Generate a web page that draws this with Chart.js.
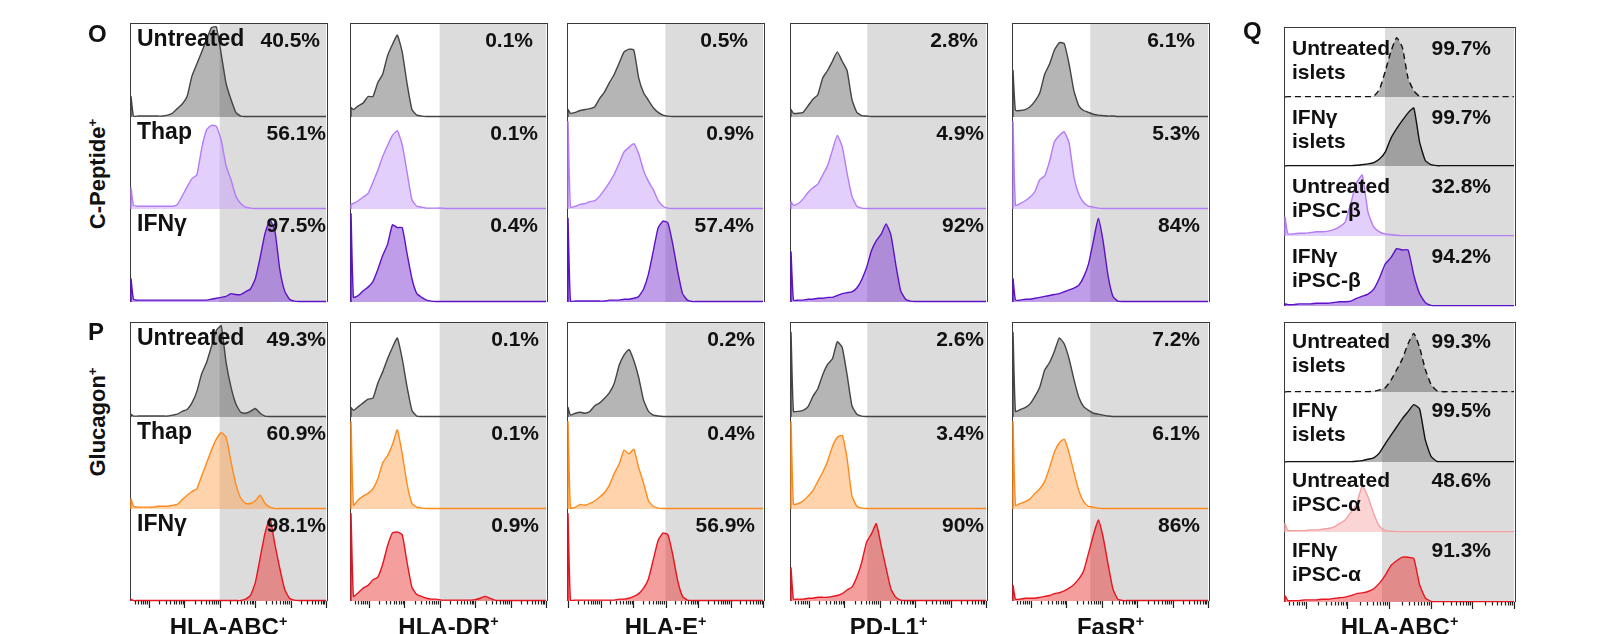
<!DOCTYPE html>
<html>
<head>
<meta charset="utf-8">
<script src="https://cdn.jsdelivr.net/npm/chart.js@4.4.0/dist/chart.umd.min.js"></script>
<style>
  body { margin: 0; background: #fff; }
  #fig { position: relative; width: 1599px; height: 634px; overflow: hidden;
         font-family: "Liberation Sans", Arial, Helvetica, sans-serif; font-weight: bold; color: #111; }
  #fig canvas { position: absolute; }
  .frame { position: absolute; box-sizing: border-box; border: 1.5px solid #3a3a3a; border-bottom: none; z-index: 1; }
  .t { position: absolute; white-space: nowrap; z-index: 30; }
  .t sup { font-size: 60%; vertical-align: 0.6em; line-height: 0; }
</style>
</head>
<body>
<div id="fig"></div>
<script>
// histograms: first value = events piled at the axis minimum, then 40 bins
const BINS = 40;

// ---- O : C-Peptide+ ----
const oAbcUnt  = [22, 1,1,1,1,1,1,1,2,4,9, 14,22,44,57,70,83,96,97,68,36, 19,5,1,.5,.5,.5,.5,.5,.5,.5, .5,.5,.5,.5,.5,.5,.5,.5,.5,.5];
const oAbcThap = [23, 4,3,3,3,3,3,3,3,3,5, 14,24,33,37,66,86,91,90,75,47, 32,14,6,2,1,.5,.5,.5,.5,.5, .5,.5,.5,.5,.5,.5,.5,.5,.5,.5];
const oAbcIfn  = [25, 3,2,2,2,2,2,2,2,2,2, 2,2,2,2,2,2,3,4,5,6, 9,8,8,11,14,25,48,74,88,77, 36,12,3,1,.5,.5,.5,.5,.5,.5];

const oDrUnt  = [10, 8,12,15,22,22,37,46,66,78,88, 70,36,8,2,1,.5,.5,.5,.5,.5, .5,.5,.5,.5,.5,.5,.5,.5,.5,.5, .5,.5,.5,.5,.5,.5,.5,.5,.5,.5];
const oDrThap = [5, 6,9,13,17,29,42,57,69,80,85, 70,40,10,3,2,1,1,1,1,.5, .5,.5,.5,.5,.5,.5,.5,.5,.5,.5, .5,.5,.5,.5,.5,.5,.5,.5,.5,.5];
const oDrIfn  = [95, 5,7,12,16,22,35,50,62,83,80, 80,52,25,9,5,2,1,.5,.5,.5, .5,.5,.5,.5,.5,.5,.5,.5,.5,.5, .5,.5,.5,.5,.5,.5,.5,.5,.5,.5];

const oEUnt  = [8, 4,5,7,8,9,11,20,27,37,46, 58,70,73,72,42,26,18,10,5,2, 1,.5,.5,.5,.5,.5,.5,.5,.5,.5, .5,.5,.5,.5,.5,.5,.5,.5,.5,.5];
const oEThap = [95, 2,3,5,6,8,9,14,21,29,38, 50,62,67,71,60,42,30,21,9,3, 1,.5,.5,.5,.5,.5,.5,.5,.5,.5, .5,.5,.5,.5,.5,.5,.5,.5,.5,.5];
const oEIfn  = [90, 1,1,1,1,1,1,1,1,2,2, 2,3,3,4,6,14,30,55,80,87, 85,62,33,9,2,.5,.5,.5,.5,.5, .5,.5,.5,.5,.5,.5,.5,.5,.5,.5];

const oPdUnt  = [8, 4,4,5,12,19,24,42,50,60,70, 60,50,19,5,1.5,1,.5,.5,.5,.5, .5,.5,.5,.5,.5,.5,.5,.5,.5,.5, .5,.5,.5,.5,.5,.5,.5,.5,.5,.5];
const oPdThap = [8, 4,6,11,18,23,27,37,47,64,80, 68,39,14,3,1,.5,.5,.5,.5,.5, .5,.5,.5,.5,.5,.5,.5,.5,.5,.5, .5,.5,.5,.5,.5,.5,.5,.5,.5,.5];
const oPdIfn  = [54, 2,2,2,3,3,4,4,5,5,7, 9,10,11,15,24,37,55,66,73,84, 72,40,12,3,1,.5,.5,.5,.5,.5, .5,.5,.5,.5,.5,.5,.5,.5,.5,.5];

const oFasUnt  = [50, 7,7,8,11,17,26,46,57,72,80, 79,57,28,12,7,5,3,2,1.5,1, 1,.5,.5,.5,.5,.5,.5,.5,.5,.5, .5,.5,.5,.5,.5,.5,.5,.5,.5,.5];
const oFasThap = [95, 4,6,9,13,19,32,36,52,73,80, 84,72,35,16,7,3,2,1,.5,.5, .5,.5,.5,.5,.5,.5,.5,.5,.5,.5, .5,.5,.5,.5,.5,.5,.5,.5,.5,.5];
const oFasIfn  = [25, 2,2,3,3,4,5,6,7,8,9, 11,13,15,18,27,41,66,90,65,28, 6,1,.5,.5,.5,.5,.5,.5,.5,.5, .5,.5,.5,.5,.5,.5,.5,.5,.5,.5];

// ---- P : Glucagon+ ----
const pAbcUnt  = [3, 1,1,1,1,1,1,1,1,2,3, 6,8,15,27,46,58,75,92,97,58, 32,14,5,4,6,9,4,1,.5,.5, .5,.5,.5,.5,.5,.5,.5,.5,.5,.5];
const pAbcThap = [11, 3,2,2,2,2,3,3,3,4,5, 10,15,19,22,36,50,64,76,83,78, 52,27,12,6,6,9,15,6,2,.5, .5,.5,.5,.5,.5,.5,.5,.5,.5,.5];
const pAbcIfn  = [2, .5,.5,.5,.5,.5,.5,.5,.5,.5,.5, .5,.5,.5,.5,.5,.5,.5,.5,.5,.5, .5,.5,.5,2,6,20,47,74,90,62, 36,13,3,1,.5,.5,.5,.5,.5,.5];

const pDrUnt  = [10, 7,11,15,19,20,36,48,62,74,84, 62,32,7,1,.5,.5,.5,.5,.5,.5, .5,.5,.5,.5,.5,.5,.5,.5,.5,.5, .5,.5,.5,.5,.5,.5,.5,.5,.5,.5];
const pDrThap = [95, 4,10,14,17,22,33,50,58,70,86, 60,27,6,2,1,.5,.5,.5,.5,.5, .5,.5,.5,.5,.5,.5,.5,.5,.5,.5, .5,.5,.5,.5,.5,.5,.5,.5,.5,.5];
const pDrIfn  = [95, 5,9,14,17,23,26,40,60,74,75, 72,42,15,7,5,3,2,2,1,1, 1,1,1,1,1,1.5,3,5,3,1, .5,.5,.5,.5,.5,.5,.5,.5,.5,.5];

const pEUnt  = [10, 2,4,5,4,6,12,15,20,26,36, 55,66,72,60,42,18,6,2,1,.5, .5,.5,.5,.5,.5,.5,.5,.5,.5,.5, .5,.5,.5,.5,.5,.5,.5,.5,.5,.5];
const pEThap = [95, 1,2,5,4,6,9,13,18,26,39, 49,64,60,65,45,28,9,3,1,.5, .5,.5,.5,.5,.5,.5,.5,.5,.5,.5, .5,.5,.5,.5,.5,.5,.5,.5,.5,.5];
const pEIfn  = [95, 1,1,1,1,1,1,1,1,1,1, 2,2,3,5,8,14,24,45,66,74, 72,50,22,5,1,.5,.5,.5,.5,.5, .5,.5,.5,.5,.5,.5,.5,.5,.5,.5];

const pPdUnt  = [90, 6,6,7,11,22,30,45,56,62,80, 74,45,12,3,1,.5,.5,.5,.5,.5, .5,.5,.5,.5,.5,.5,.5,.5,.5,.5, .5,.5,.5,.5,.5,.5,.5,.5,.5,.5];
const pPdThap = [95, 5,6,9,14,20,30,40,52,68,78, 80,55,14,3,1,.5,.5,.5,.5,.5, .5,.5,.5,.5,.5,.5,.5,.5,.5,.5, .5,.5,.5,.5,.5,.5,.5,.5,.5,.5];
const pPdIfn  = [36, 2,2,2,3,3,4,4,4,5,6, 8,12,15,26,42,64,73,84,60,36, 13,4,1,.5,.5,.5,.5,.5,.5,.5, .5,.5,.5,.5,.5,.5,.5,.5,.5,.5];

const pFasUnt  = [90, 6,8,10,14,22,32,50,58,70,84, 78,62,40,21,11,7,4,3,2,1, .5,.5,.5,.5,.5,.5,.5,.5,.5,.5, .5,.5,.5,.5,.5,.5,.5,.5,.5,.5];
const pFasThap = [95, 4,6,8,11,17,22,30,45,62,72, 76,61,40,20,8,3,2,1,.5,.5, .5,.5,.5,.5,.5,.5,.5,.5,.5,.5, .5,.5,.5,.5,.5,.5,.5,.5,.5,.5];
const pFasIfn  = [17, 2,2,3,3,3,4,5,6,8,9, 11,14,18,24,33,52,72,88,69,40, 13,2,.5,.5,.5,.5,.5,.5,.5,.5, .5,.5,.5,.5,.5,.5,.5,.5,.5,.5];

// ---- Q : HLA-ABC, islets vs iPSC ----
const qUntIsletB = [0, .5,.5,.5,.5,.5,.5,.5,.5,.5,.5, .5,.5,.5,.5,.5,1,11,37,66,86, 72,27,9,1,.5,.5,.5,.5,.5,.5, .5,.5,.5,.5,.5,.5,.5,.5,.5,.5];
const qIfnIsletB = [0, .5,.5,.5,.5,.5,.5,.5,.5,.5,.5, .5,.5,1,2,3,5,10,20,40,54, 66,77,84,35,8,2,.5,.5,.5,.5, .5,.5,.5,.5,.5,.5,.5,.5,.5,.5];
const qUntBeta   = [27, 3,3,4,4,5,6,6,7,9,13, 20,47,76,87,34,13,6,3,2,1, .5,.5,.5,.5,.5,.5,.5,.5,.5,.5, .5,.5,.5,.5,.5,.5,.5,.5,.5,.5];
const qIfnBeta   = [3, 2,2,3,3,3,4,4,4,5,6, 6,7,11,14,17,24,40,60,69,82, 80,80,44,18,5,1,.5,.5,.5,.5, .5,.5,.5,.5,.5,.5,.5,.5,.5,.5];
const qUntIsletA = [0, .5,.5,.5,.5,.5,.5,.5,.5,.5,.5, .5,.5,.5,.5,.5,1,3,6,17,32, 48,70,85,65,33,11,2,.5,.5,.5, .5,.5,.5,.5,.5,.5,.5,.5,.5,.5];
const qIfnIsletA = [0, .5,.5,.5,.5,.5,.5,.5,.5,.5,.5, .5,.5,1,2,4,6,13,26,38,50, 62,72,82,76,32,8,1,.5,.5,.5, .5,.5,.5,.5,.5,.5,.5,.5,.5,.5];
const qUntAlpha  = [12, 2,2,2,2,3,3,4,5,7,12, 17,28,40,66,50,26,8,2,1,.5, .5,.5,.5,.5,.5,.5,.5,.5,.5,.5, .5,.5,.5,.5,.5,.5,.5,.5,.5,.5];
const qIfnAlpha  = [9, 2,2,2,3,3,3,4,4,5,6, 7,9,12,13,15,19,27,38,52,59, 64,64,62,25,6,1,.5,.5,.5,.5, .5,.5,.5,.5,.5,.5,.5,.5,.5,.5];

// axes (log decades) and gates
const markers = ['HLA-ABC', 'HLA-DR', 'HLA-E', 'PD-L1', 'FasR'];
const axisRange = [[-0.5, 5], [-0.5, 5], [0, 6], [-0.5, 5], [-0.5, 5]];
const gates = [2.0, 2.0, 3.0, 1.65, 1.68];
const decades = [[0,1,2,3,4,5], [0,1,2,3,4,5], [0,1,2,3,4,5,6], [0,1,2,3,4,5], [0,1,2,3,4,5]];
const conditions = ['Untreated', 'Thap', 'IFNγ'];
const pctO = [['40.5%','56.1%','97.5%'], ['0.1%','0.1%','0.4%'], ['0.5%','0.9%','57.4%'], ['2.8%','4.9%','92%'], ['6.1%','5.3%','84%']];
const pctP = [['49.3%','60.9%','98.1%'], ['0.1%','0.1%','0.9%'], ['0.2%','0.4%','56.9%'], ['2.6%','3.4%','90%'], ['7.2%','6.1%','86%']];
const dataO = [[oAbcUnt, oAbcThap, oAbcIfn], [oDrUnt, oDrThap, oDrIfn], [oEUnt, oEThap, oEIfn], [oPdUnt, oPdThap, oPdIfn], [oFasUnt, oFasThap, oFasIfn]];
const dataP = [[pAbcUnt, pAbcThap, pAbcIfn], [pDrUnt, pDrThap, pDrIfn], [pEUnt, pEThap, pEIfn], [pPdUnt, pPdThap, pPdIfn], [pFasUnt, pFasThap, pFasIfn]];

const qRange = [-0.5, 5];
const qDecades = [0,1,2,3,4,5];
const qGateB = 1.9, qGateA = 1.83;
const qLabelsB = [['Untreated','islets'], ['IFNγ','islets'], ['Untreated','iPSC-β'], ['IFNγ','iPSC-β']];
const qLabelsA = [['Untreated','islets'], ['IFNγ','islets'], ['Untreated','iPSC-α'], ['IFNγ','iPSC-α']];
const pctQB = ['99.7%','99.7%','32.8%','94.2%'];
const pctQA = ['99.3%','99.5%','48.6%','91.3%'];
const dataQB = [qUntIsletB, qIfnIsletB, qUntBeta, qIfnBeta];
const dataQA = [qUntIsletA, qIfnIsletA, qUntAlpha, qIfnAlpha];

// layout
const colLeft = [131, 351, 568, 791, 1013];
const colW = 195;
const rowO = [24, 117, 209, 302];
const rowP = [323, 417, 509, 601];
const qLeft = 1285, qW = 229;
const rowQB = [28, 97, 166, 236, 306];
const rowQA = [323, 392, 462, 532, 602];
const pctPadO = [[6,0,0], [13,8,8], [15,9,9], [8,2,2], [13,8,8]];
const pctPadP = [[0,0,0], [7,7,7], [8,8,8], [2,2,2], [8,8,8]];

const st = {
  gray:   { line: '#444444', fill: 'rgba(70,70,70,0.40)' },
  lilac:  { line: '#b47cf5', fill: 'rgba(200,160,250,0.50)' },
  violet: { line: '#5b12c8', fill: 'rgba(130,60,210,0.50)' },
  orange: { line: '#ff8a1c', fill: 'rgba(255,160,70,0.45)' },
  red:    { line: '#e8141e', fill: 'rgba(230,40,40,0.45)' },
  pink:   { line: '#f5a0a0', fill: 'rgba(245,150,150,0.40)' },
  black:  { line: '#111111', fill: 'rgba(70,70,70,0.40)' },
  dashed: { line: '#111111', fill: 'rgba(70,70,70,0.40)', dash: [6, 4] }
};
const styleO = [st.gray, st.lilac, st.violet];
const styleP = [st.gray, st.orange, st.red];
const styleQB = [st.dashed, st.black, st.lilac, st.violet];
const styleQA = [st.dashed, st.black, st.pink, st.red];

const fig = document.getElementById('fig');

// gray gate region from the threshold to the right edge
const gatePlugin = {
  id: 'gate',
  beforeDatasetsDraw(chart, args, o) {
    const { ctx, chartArea: a, scales: { x } } = chart;
    const gx = x.getPixelForValue(o.at);
    ctx.save();
    ctx.fillStyle = '#dcdcdc';
    ctx.fillRect(gx, a.top, a.right - gx, a.bottom - a.top);
    ctx.restore();
  }
};

// log ticks under the bottom histogram
const tickPlugin = {
  id: 'logTicks',
  afterDatasetsDraw(chart, args, o) {
    if (!o.decades) return;
    const { ctx, chartArea: a, scales: { x } } = chart;
    const marks = [];
    const first = o.decades[0] - 1;
    for (let k = 2; k < 10; k++) marks.push([first + Math.log10(k), 3.5]);
    o.decades.forEach(d => {
      marks.push([d, 7]);
      for (let k = 2; k < 10; k++) marks.push([d + Math.log10(k), 3.5]);
    });
    ctx.save();
    ctx.strokeStyle = '#222';
    ctx.lineWidth = 1.2;
    ctx.beginPath();
    marks.forEach(([v, len]) => {
      if (v < x.min - 1e-6 || v > x.max + 1e-6) return;
      const px = Math.round(x.getPixelForValue(v)) + 0.5;
      ctx.moveTo(px, a.bottom);
      ctx.lineTo(px, a.bottom + len);
    });
    ctx.stroke();
    ctx.restore();
  }
};

function toPoints(vals, range) {
  const [lo, hi] = range;
  const step = (hi - lo) / BINS;
  const pts = [{ x: lo, y: 0 }, { x: lo, y: vals[0] }];
  for (let i = 1; i < vals.length; i++) pts.push({ x: lo + (i - 0.5) * step, y: vals[i] });
  pts.push({ x: hi, y: vals[vals.length - 1] });
  return pts;
}

function drawHisto(left, top, w, h, vals, style, range, gate, ticks, z) {
  const pad = { left: 2, right: 2, top: 2, bottom: ticks ? 13 : 2 };
  const cv = document.createElement('canvas');
  cv.width = w + pad.left + pad.right;
  cv.height = h + pad.top + pad.bottom;
  cv.style.left = (left - pad.left) + 'px';
  cv.style.top = (top - pad.top) + 'px';
  cv.style.zIndex = z;
  fig.appendChild(cv);

  new Chart(cv, {
    type: 'line',
    data: {
      datasets: [{
        data: toPoints(vals, range),
        borderColor: style.line,
        backgroundColor: style.fill,
        borderWidth: 1.4,
        borderDash: style.dash || [],
        fill: 'origin',
        pointRadius: 0,
        tension: 0.15,
        clip: false
      }]
    },
    options: {
      responsive: false,
      animation: false,
      events: [],
      devicePixelRatio: 1,
      layout: { padding: pad },
      scales: {
        x: { type: 'linear', min: range[0], max: range[1], display: false },
        y: { min: 0, max: 100, display: false }
      },
      plugins: {
        legend: { display: false },
        tooltip: { enabled: false },
        gate: { at: gate },
        logTicks: { decades: ticks }
      }
    },
    plugins: [gatePlugin, tickPlugin]
  });
}

function text(html, css) {
  const d = document.createElement('div');
  d.className = 't';
  d.innerHTML = html;
  Object.assign(d.style, css);
  fig.appendChild(d);
  return d;
}

function frame(left, top, w, h) {
  const d = document.createElement('div');
  d.className = 'frame';
  Object.assign(d.style, { left: (left - 1.5) + 'px', top: (top - 1.5) + 'px', width: (w + 3) + 'px', height: (h + 1.5) + 'px' });
  fig.appendChild(d);
}

// O and P rows
[[rowO, dataO, styleO, pctO, pctPadO, false], [rowP, dataP, styleP, pctP, pctPadP, true]].forEach(([rows, data, styles, pcts, pads, bottomRow]) => {
  for (let c = 0; c < 5; c++) {
    const L = colLeft[c];
    frame(L, rows[0], colW, rows[3] - rows[0]);
    for (let k = 0; k < 3; k++) {
      const last = k === 2;
      drawHisto(L, rows[k], colW, rows[k + 1] - rows[k], data[c][k], styles[k], axisRange[c], gates[c],
        (bottomRow && last) ? decades[c] : null, 10 - k);
      if (c === 0) text(conditions[k], { left: (L + 6) + 'px', top: (rows[k] + 3) + 'px', fontSize: '23px', lineHeight: '23px' });
      text(pcts[c][k], { right: (1599 - (L + colW - pads[c][k])) + 'px', top: (rows[k] + 5) + 'px', fontSize: '21px', lineHeight: '21px' });
    }
    if (bottomRow) {
      text(markers[c] + '<sup>+</sup>', { left: (L + colW / 2) + 'px', top: '615px', fontSize: '24px', lineHeight: '24px', transform: 'translateX(-50%)' });
    }
  }
});

// Q panels
[[rowQB, dataQB, styleQB, qLabelsB, pctQB, qGateB, false, 8], [rowQA, dataQA, styleQA, qLabelsA, pctQA, qGateA, true, 6]].forEach(([rows, data, styles, labels, pcts, gate, bottomRow, dy]) => {
  frame(qLeft, rows[0], qW, rows[4] - rows[0]);
  for (let k = 0; k < 4; k++) {
    drawHisto(qLeft, rows[k], qW, rows[k + 1] - rows[k], data[k], styles[k], qRange, gate,
      (bottomRow && k === 3) ? qDecades : null, 10 - k);
    text(labels[k].join('<br>'), { left: (qLeft + 7) + 'px', top: (rows[k] + dy) + 'px', fontSize: '21px', lineHeight: '24px' });
    text(pcts[k], { right: (1599 - (qLeft + qW - 23)) + 'px', top: (rows[k] + dy) + 'px', fontSize: '21px', lineHeight: '24px' });
  }
  if (bottomRow) {
    text('HLA-ABC<sup>+</sup>', { left: (qLeft + qW / 2) + 'px', top: '615px', fontSize: '24px', lineHeight: '24px', transform: 'translateX(-50%)' });
  }
});

// panel letters and row titles
text('O', { left: '88px', top: '22px', fontSize: '24px', lineHeight: '24px' });
text('P', { left: '88px', top: '320px', fontSize: '24px', lineHeight: '24px' });
text('Q', { left: '1243px', top: '19px', fontSize: '24px', lineHeight: '24px' });
text('C-Peptide<sup>+</sup>', { left: '97.5px', top: '174px', fontSize: '22px', lineHeight: '22px', transform: 'translate(-50%,-50%) rotate(-90deg)' });
text('Glucagon<sup>+</sup>', { left: '97.5px', top: '422px', fontSize: '22px', lineHeight: '22px', transform: 'translate(-50%,-50%) rotate(-90deg)' });
</script>
</body>
</html>
